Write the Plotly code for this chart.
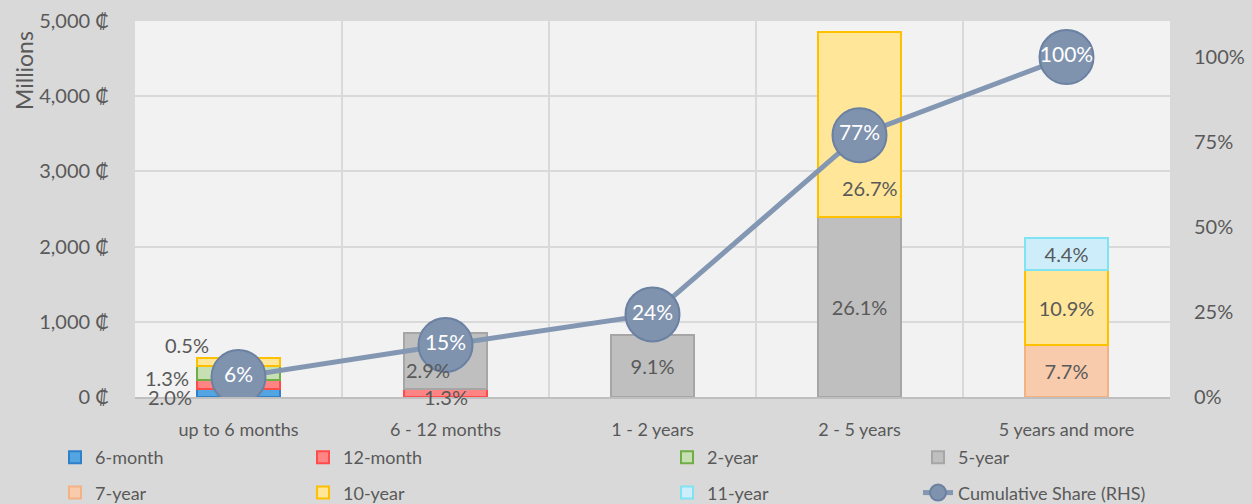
import plotly.graph_objects as go

categories = ["up to 6 months", "6 - 12 months", "1 - 2 years", "2 - 5 years", "5 years and more"]

# Values in millions; None = no segment
m6 = [105, None, None, None, None]
m12 = [120, 110, None, None, None]
y2 = [185, None, None, None, None]
y5 = [None, 745, 830, 2400, None]
y7 = [None, None, None, None, 690]
y10 = [110, None, None, 2460, 1000]
y11 = [None, None, None, None, 425]
cumulative = [0.059, 0.153, 0.243, 0.770, 1.0]

# Left axis ticks
y_ticks = [0, 1000, 2000, 3000, 4000, 5000]
y_ticktext = ["0 ₡", "1,000 ₡", "2,000 ₡", "3,000 ₡", "4,000 ₡", "5,000 ₡"]

# Data labels shown inside bars
y5_labels = ["", "", "9.1%", "26.1%", ""]
y7_labels = ["", "", "", "", "7.7%"]
y10_labels = ["", "", "", "", "10.9%"]
y11_labels = ["", "", "", "", "4.4%"]

# Labels placed beside / off-centre: (category, y value, text, xshift)
side_labels = [
    ("up to 6 months", 690, "0.5%", -52),
    ("up to 6 months", 250, "1.3%", -72),
    ("up to 6 months", 0, "2.0%", -69),
    ("6 - 12 months", 360, "2.9%", -18),
    ("6 - 12 months", 0, "1.3%", 0),
    ("2 - 5 years", 2780, "26.7%", 10),
]

FONT = "Lato, 'Open Sans', 'DejaVu Sans', sans-serif"
TXT = "#595959"
LBL = 20

series = [
    ("6-month", m6, "#52a5e0", "#2e80c8", None, "legend"),
    ("12-month", m12, "#ff8585", "#ff4b4b", None, "legend2"),
    ("2-year", y2, "#c6e0b4", "#70ad47", None, "legend3"),
    ("5-year", y5, "#bfbfbf", "#a6a6a6", y5_labels, "legend4"),
    ("7-year", y7, "#f8cbad", "#f4b183", y7_labels, "legend"),
    ("10-year", y10, "#ffe699", "#ffc000", y10_labels, "legend2"),
    ("11-year", y11, "#cdedfb", "#7fe3f2", y11_labels, "legend3"),
]

fig = go.Figure()
for name, vals, fill, line, labels, lg in series:
    fig.add_trace(go.Bar(
        x=categories, y=vals, name=name,
        marker=dict(color=fill, line=dict(color=line, width=2)),
        text=labels, textposition="inside", insidetextanchor="middle",
        textfont=dict(size=LBL, color=TXT, family=FONT),
        constraintext="none",
        width=0.4, legend=lg, legendgroup=name,
        hoverinfo="skip",
    ))

fig.add_trace(go.Scatter(
    x=categories, y=cumulative, name="Cumulative Share (RHS)",
    yaxis="y2", mode="lines+markers+text",
    line=dict(color="#8397b2", width=5),
    marker=dict(size=54, color="#7f93af", line=dict(color="#6b81a2", width=2)),
    text=[f"{v:.0%}" for v in cumulative], textposition="middle center",
    textfont=dict(size=21, color="white", family=FONT),
    legend="legend4", legendgroup="cum",
))

for cat, yv, t, xs in side_labels:
    fig.add_annotation(x=cat, y=yv, text=t, showarrow=False, xshift=xs,
                       font=dict(size=LBL, color=TXT, family=FONT))

fig.add_annotation(xref="paper", yref="paper", x=(24 - 135) / 1035, y=(397 - 71) / 376,
                   xanchor="center", yanchor="middle",
                   text="Millions", textangle=-90, showarrow=False,
                   font=dict(size=23, color=TXT, family=FONT))

legend_common = dict(
    orientation="v", xref="container", yref="container",
    xanchor="left", yanchor="top", bgcolor="rgba(0,0,0,0)",
    font=dict(size=18, color=TXT, family=FONT),
    tracegroupgap=9, traceorder="grouped", itemclick=False,
)
leg_x = [55, 303, 667, 918]
top_y = 1 - 439 / 504
fig.update_layout(
    width=1252, height=504,
    paper_bgcolor="#d9d9d9", plot_bgcolor="#f2f2f2",
    barmode="stack",
    margin=dict(l=135, r=82, t=21, b=107, autoexpand=False),
    font=dict(family=FONT, color=TXT, size=18),
    xaxis=dict(type="category", tickson="boundaries", showgrid=True,
               gridcolor="#d9d9d9", gridwidth=2, ticks="", showline=True,
               linecolor="#bfbfbf", linewidth=2, tickfont=dict(size=18, color=TXT),
               ticklabelstandoff=15, automargin=False),
    yaxis=dict(range=[0, 5000], tickvals=y_ticks, ticktext=y_ticktext,
               showgrid=True, gridcolor="#d9d9d9",
               gridwidth=2, zeroline=False, tickfont=dict(size=20, color=TXT),
               ticklabelstandoff=25, automargin=False),
    yaxis2=dict(range=[0, 1.106], tickvals=[0, 0.25, 0.5, 0.75, 1.0], tickformat=".0%",
                overlaying="y", side="right", showgrid=False, zeroline=False,
                tickfont=dict(size=20, color=TXT), ticklabelstandoff=23, automargin=False),
    legend=dict(x=leg_x[0] / 1252, y=top_y, **legend_common),
    legend2=dict(x=leg_x[1] / 1252, y=top_y, **legend_common),
    legend3=dict(x=leg_x[2] / 1252, y=top_y, **legend_common),
    legend4=dict(x=leg_x[3] / 1252, y=top_y, **legend_common),
    showlegend=True,
)

fig.write_html(
    "out.html",
    config={"displayModeBar": False},
    post_script="document.body.style.margin='0';document.body.style.background='#d9d9d9';",
)
